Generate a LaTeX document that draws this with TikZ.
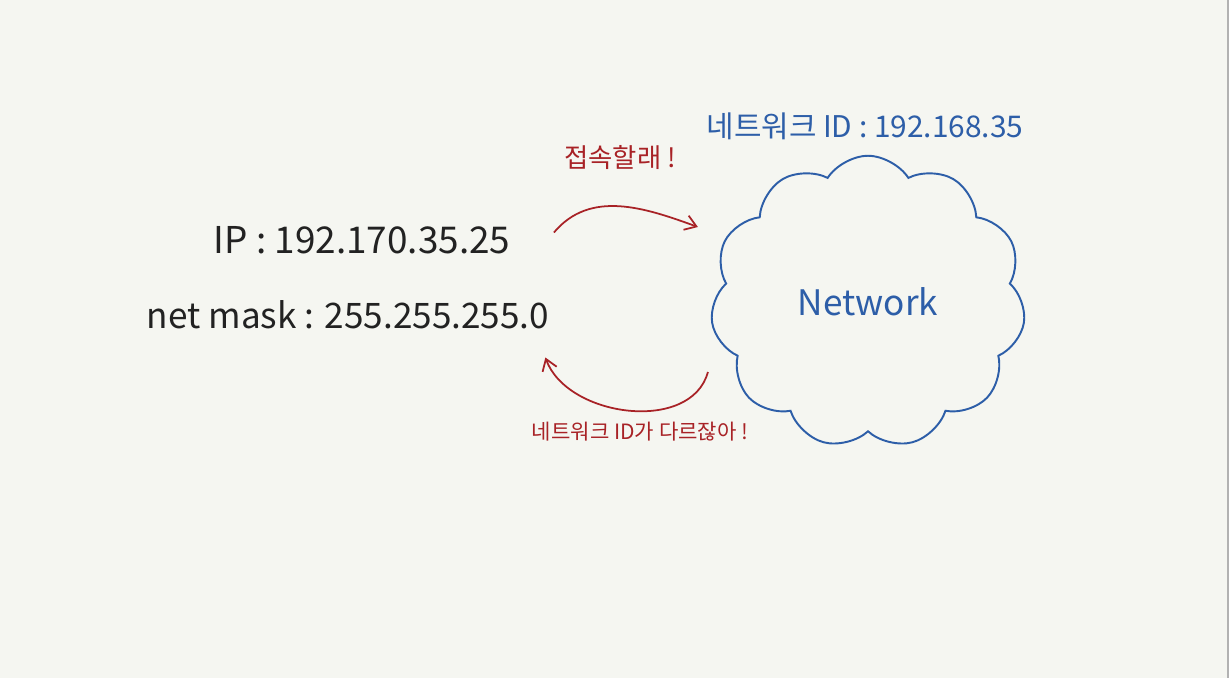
\documentclass[tikz,border=0pt]{standalone}
\usepackage{fontspec}
\setmainfont{Noto Sans CJK KR}
\usetikzlibrary{arrows.meta,positioning,shapes.symbols}
\definecolor{paper}{HTML}{F5F6F1}
\definecolor{penred}{HTML}{A82226}
\definecolor{penblue}{HTML}{2D5EA8}
\definecolor{penblack}{HTML}{222222}

\begin{document}
\begin{tikzpicture}[
    x=0.02cm, y=0.02cm,
    info/.style={font=\fontsize{20}{24}\selectfont, text=penblack},
    remark/.style={font=\fontsize{15}{18}\selectfont, text=penred},
    netid/.style={font=\fontsize{17}{21}\selectfont, text=penblue},
    net/.style={cloud, draw=penblue, line width=1.1pt, cloud puffs=11,
                cloud puff arc=115, aspect=1.1, minimum width=6.3cm,
                minimum height=5.85cm, text=penblue,
                font=\fontsize{20}{24}\selectfont},
    reply/.style={-{Straight Barb[length=2.2mm,width=3mm]}, draw=penred,
                  line width=1pt},
]
    % paper
    \fill[paper] (0,0) rectangle (1229,678);
    \useasboundingbox (0,0) rectangle (1229,678);
    \draw[gray!60, line width=1.2pt] (1228,0) -- (1228,678);

    % host settings
    \node[info, font=\fontsize{21}{25}\selectfont] (ip) at (362,438)
        {IP : 192.170.35.25};
    \node[info] (mask) at (348,363) {net mask : 255.255.255.0};

    % network
    \node[net] (cloud) at (868,376) {Network};
    \node[netid] (netid) at (865,552) {네트워크 ID : 192.168.35};

    % messages
    \node[remark] (ask) at (620,520) {접속할래 !};
    \node[remark, font=\fontsize{12}{15}\selectfont] (deny) at (640,246)
        {네트워크 ID가 다르잖아 !};

    % arrows
    \draw[reply] ([xshift=0.75cm,yshift=0.15cm]ip.east) to[out=50,in=160]
        ([xshift=-0.3cm,yshift=1.5cm]cloud.west);
    \draw[reply] ([xshift=-0.1cm,yshift=-1.4cm]cloud.west) to[out=-105,in=-70]
        ([xshift=-0.2cm,yshift=-0.85cm]mask.east);
\end{tikzpicture}
\end{document}
